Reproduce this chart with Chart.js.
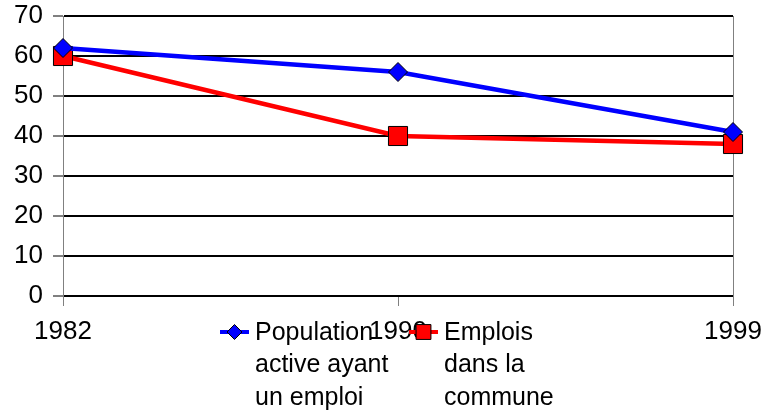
<!DOCTYPE html>
<html>
<head>
<meta charset="utf-8">
<script src="https://cdn.jsdelivr.net/npm/chart.js@4/dist/chart.umd.min.js"></script>
<style>
  html, body { margin: 0; padding: 0; background: #fff; }
  #wrap { width: 766px; height: 416px; }
</style>
</head>
<body>
<div id="wrap"><canvas id="chart" width="766" height="416"></canvas></div>
<script>
// données
const years = ['1982', '1990', '1999'];
const populationActive = [62, 56, 41];
const emploisCommune = [60, 40, 38];
const yMin = 0;
const yMax = 70;
const yStep = 10;
const seriesLabels = [
    ['Population', 'active ayant', 'un emploi'],
    ['Emplois', 'dans la', 'commune']
];

const FONT = '"Liberation Sans", Arial, sans-serif';

// légende dessinée à la main (libellés sur plusieurs lignes)
const multiLineLegend = {
    id: 'multiLineLegend',
    afterDraw(chart) {
        const ctx = chart.ctx;
        const items = [
            { x: 220, marker: { pointStyle: 'rectRot', radius: 7.5 } },
            { x: 409, marker: { pointStyle: 'rect', radius: 10.5 } }
        ];
        const y0 = 332;
        const lineH = 32.5;
        ctx.save();
        chart.data.datasets.forEach((ds, i) => {
            const it = items[i];
            // trait
            ctx.strokeStyle = ds.borderColor;
            ctx.lineWidth = 4;
            ctx.beginPath();
            ctx.moveTo(it.x, y0);
            ctx.lineTo(it.x + 29, y0);
            ctx.stroke();
            // marqueur
            ctx.fillStyle = ds.pointBackgroundColor;
            ctx.strokeStyle = '#000';
            ctx.lineWidth = 1;
            Chart.helpers.drawPoint(ctx, {
                pointStyle: it.marker.pointStyle,
                radius: it.marker.radius,
                rotation: 0,
                borderWidth: 1
            }, it.x + 14.5, y0);
            // texte
            ctx.fillStyle = '#000';
            ctx.font = '25px ' + FONT;
            ctx.textAlign = 'left';
            ctx.textBaseline = 'middle';
            seriesLabels[i].forEach((line, j) => {
                ctx.fillText(line, it.x + 35, y0 + j * lineH + 1);
            });
        });
        ctx.restore();
    }
};

const ctx = document.getElementById('chart').getContext('2d');
new Chart(ctx, {
    type: 'line',
    data: {
        labels: years,
        datasets: [{
            label: seriesLabels[0].join(' '),
            data: populationActive,
            borderColor: '#0000FF',
            borderWidth: 4.5,
            pointStyle: 'rectRot',
            pointRadius: 9.5,
            pointBackgroundColor: '#0000FF',
            pointBorderColor: '#000',
            pointBorderWidth: 1,
            tension: 0
        }, {
            label: seriesLabels[1].join(' '),
            data: emploisCommune,
            borderColor: '#FF0000',
            borderWidth: 4.5,
            pointStyle: 'rect',
            pointRadius: 13.5,
            pointBackgroundColor: '#FF0000',
            pointBorderColor: '#000',
            pointBorderWidth: 1,
            tension: 0
        }]
    },
    options: {
        responsive: false,
        animation: false,
        layout: { padding: { top: 16, right: 33, left: 0, bottom: 0 } },
        plugins: {
            legend: { display: false },
            tooltip: { enabled: false }
        },
        scales: {
            x: {
                offset: false,
                afterFit: s => { s.height = 120; s.paddingLeft = 0; s.paddingRight = 0; },
                border: { display: false },
                grid: {
                    color: c => c.index === years.length - 1 ? '#808080' : 'rgba(0,0,0,0)',
                    lineWidth: 1,
                    tickColor: '#808080',
                    tickLength: 10
                },
                ticks: {
                    color: '#000',
                    font: { family: FONT, size: 26 },
                    padding: 10,
                    maxRotation: 0,
                    autoSkip: false
                }
            },
            y: {
                min: yMin,
                max: yMax,
                afterFit: s => { s.width = 63; s.paddingTop = 0; s.paddingBottom = 0; },
                border: { display: true, color: '#808080', width: 1 },
                grid: {
                    color: '#000',
                    lineWidth: 2,
                    tickColor: '#000',
                    tickWidth: 1,
                    tickLength: 10
                },
                ticks: {
                    stepSize: yStep,
                    color: '#000',
                    font: { family: FONT, size: 26 },
                    padding: 10
                }
            }
        }
    },
    plugins: [multiLineLegend]
});
</script>
</body>
</html>
